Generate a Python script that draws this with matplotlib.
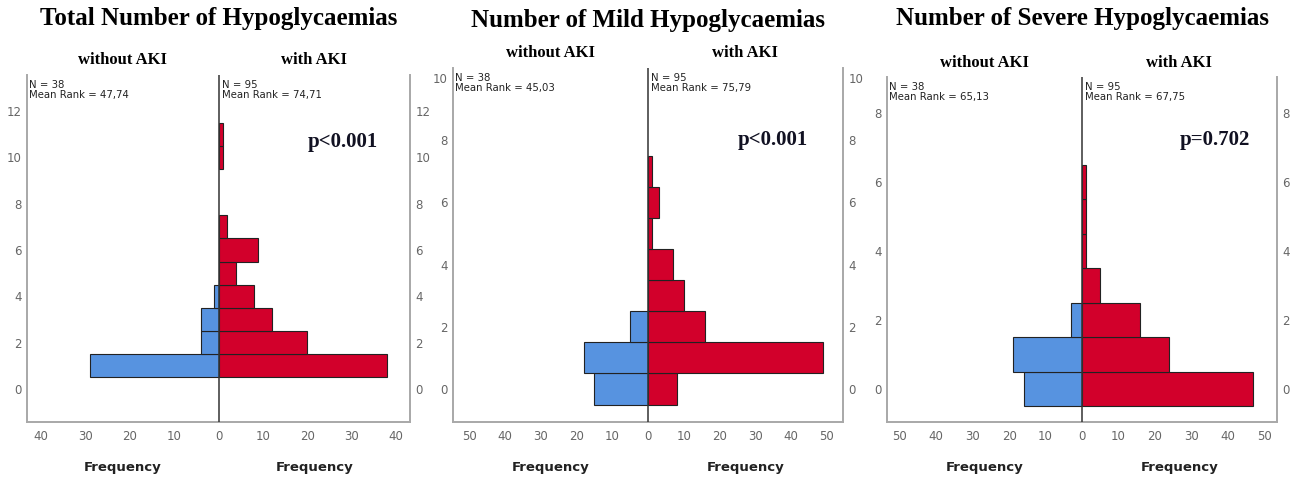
import numpy as np
import matplotlib
matplotlib.use("Agg")
import matplotlib.pyplot as plt

W, H = 1293, 479

# data
titles = ["Total Number of Hypoglycaemias",
          "Number of Mild Hypoglycaemias",
          "Number of Severe Hypoglycaemias"]
p_texts = ["p<0.001", "p<0.001", "p=0.702"]

total_levels = [0, 1, 2, 3, 4, 5, 6, 7, 8, 9, 10, 11]
total_without = [0, 29, 4, 4, 1, 0, 0, 0, 0, 0, 0, 0]
total_with = [0, 38, 20, 12, 8, 4, 9, 2, 0, 0, 1, 1]

mild_levels = [0, 1, 2, 3, 4, 5, 6, 7]
mild_without = [15, 18, 5, 0, 0, 0, 0, 0]
mild_with = [8, 49, 16, 10, 7, 1, 3, 1]

severe_levels = [0, 1, 2, 3, 4, 5, 6]
severe_without = [16, 19, 3, 0, 0, 0, 0]
severe_with = [47, 24, 16, 5, 1, 1, 1]

n_without = [38, 38, 38]
n_with = [95, 95, 95]
rank_without = ["47,74", "45,03", "65,13"]
rank_with = ["74,71", "75,79", "67,75"]

y_ticks = [np.arange(0, 13, 2), np.arange(0, 11, 2), np.arange(0, 9, 2)]
x_ticks = [np.arange(-40, 41, 10), np.arange(-50, 51, 10), np.arange(-50, 51, 10)]

# layout (pixels): left, right, top, bottom of each plot box, and limits
boxes = [(27, 410, 75, 422), (453, 843, 68, 422), (887, 1277, 77, 422)]
ylims = [(-1.42, 13.55), (-1.06, 10.32), (-0.96, 9.04)]
xlims = [43.2, 54.6, 53.5]
title_y = [18, 20, 18]
sub_y = [60, 53, 63]
p_pos = [(343, 142), (773, 140), (1215, 140)]

BLUE = "#5793e0"
RED = "#d2002b"

fig = plt.figure(figsize=(W / 100, H / 100), dpi=100)


def fx(x):
    return x / W


def fy(y):
    return 1 - y / H


series = [(total_levels, total_without, total_with),
          (mild_levels, mild_without, mild_with),
          (severe_levels, severe_without, severe_with)]

for i, (levels, wo, wi) in enumerate(series):
    l, r, t, b = boxes[i]
    ax = fig.add_axes([fx(l), fy(b), (r - l) / W, (b - t) / H])
    levels = np.array(levels)
    wo = np.array(wo)
    wi = np.array(wi)
    m = wo > 0
    ax.barh(levels[m], -wo[m], height=1, color=BLUE, edgecolor="#222222", linewidth=0.8, zorder=2)
    m = wi > 0
    ax.barh(levels[m], wi[m], height=1, color=RED, edgecolor="#222222", linewidth=0.8, zorder=2)
    ax.axvline(0, color="#333333", linewidth=1.1, zorder=3)

    ax.set_xlim(-xlims[i], xlims[i])
    ax.set_ylim(*ylims[i])
    ax.set_yticks(y_ticks[i])
    ax.set_xticks(x_ticks[i])
    ax.set_xticklabels([str(abs(v)) for v in x_ticks[i]])
    ax.tick_params(length=0, labelleft=True, labelright=True, labelsize=8.5,
                   labelcolor="#666666", pad=4)
    ax.tick_params(axis="x", pad=6)
    for s in ["left", "right", "bottom"]:
        ax.spines[s].set_color("#a8a8a8")
        ax.spines[s].set_linewidth(1.4)
    ax.spines["top"].set_visible(False)

    # N and mean rank labels
    ax.text(0.006, 0.985, f"N = {n_without[i]}\nMean Rank = {rank_without[i]}",
            transform=ax.transAxes, ha="left", va="top", fontsize=7.3,
            color="#222222", linespacing=1.0)
    ax.text(0.508, 0.985, f"N = {n_with[i]}\nMean Rank = {rank_with[i]}",
            transform=ax.transAxes, ha="left", va="top", fontsize=7.3,
            color="#222222", linespacing=1.0)

    cx = (l + r) / 2
    qx_left = (l + cx) / 2
    qx_right = (cx + r) / 2
    fig.text(fx(cx), fy(title_y[i]), titles[i], ha="center", va="center",
             family="Liberation Serif", fontweight="bold", fontsize=18)
    fig.text(fx(qx_left), fy(sub_y[i]), "without AKI", ha="center", va="center",
             family="Liberation Serif", fontweight="bold", fontsize=12)
    fig.text(fx(qx_right), fy(sub_y[i]), "with AKI", ha="center", va="center",
             family="Liberation Serif", fontweight="bold", fontsize=12)
    fig.text(fx(p_pos[i][0]), fy(p_pos[i][1]), p_texts[i], ha="center", va="center",
             family="Liberation Serif", fontweight="bold", fontsize=15, color="#111122")
    fig.text(fx(qx_left), fy(467), "Frequency", ha="center", va="center",
             fontweight="bold", fontsize=9.5, color="#222222")
    fig.text(fx(qx_right), fy(467), "Frequency", ha="center", va="center",
             fontweight="bold", fontsize=9.5, color="#222222")

fig.savefig("out.png", dpi=100)
